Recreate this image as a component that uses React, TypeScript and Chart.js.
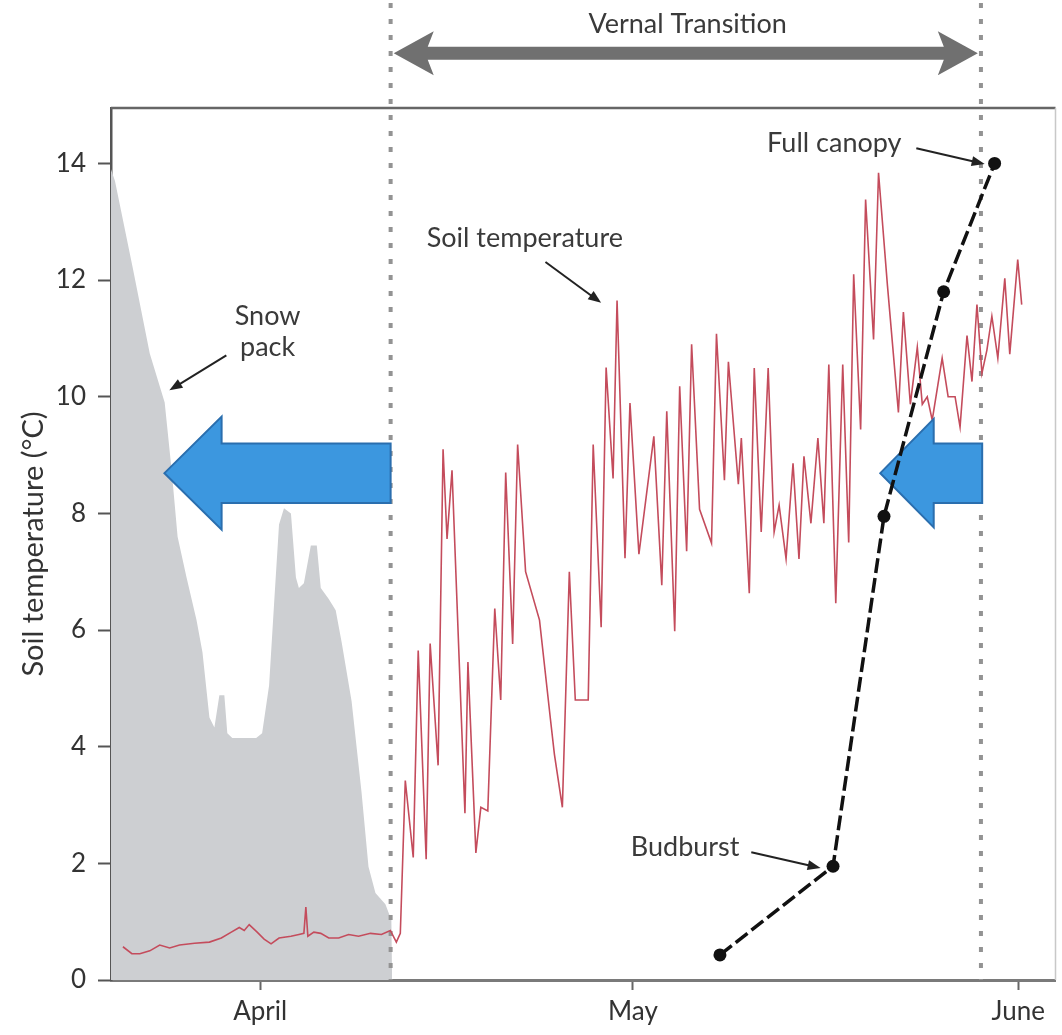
import React, { useEffect, useRef } from 'react';
import { Chart, registerables } from 'chart.js';

Chart.register(...registerables);

const FONT = 'Lato, "Open Sans", "DejaVu Sans", sans-serif';

// x axis: days after 1 April
const monthTickDays = [0, 30, 61];
const monthTickLabels = ['April', 'May', 'June'];
const yTickValues = [0, 2, 4, 6, 8, 10, 12, 14];

// Snow pack outline (drawn on the same scale as the temperature axis)
const snowDays = [
  -12.0, -11.68, -10.24, -8.88, -7.68, -7.12, -6.64, -5.92, -5.12, -4.64, -4.08, -3.68,
  -3.28, -2.88, -2.64, -2.24, -0.32, 0.16, 0.72, 1.12, 1.52, 1.92, 2.48, 2.88, 3.12,
  3.52, 4.08, 4.56, 4.88, 5.52, 6.08, 6.56, 7.36, 8.16, 8.72, 9.28, 10.08, 10.56, 10.62,
];
const snowPack = [
  13.9, 13.7, 12.2, 10.74, 9.9, 8.74, 7.6, 6.9, 6.17, 5.62, 4.5, 4.33,
  4.88, 4.88, 4.23, 4.15, 4.15, 4.23, 5.05, 6.44, 7.81, 8.09, 8.0, 6.9, 6.72,
  6.8, 7.45, 7.45, 6.72, 6.53, 6.34, 5.79, 4.78, 3.22, 1.94, 1.49, 1.3, 1.03, 0,
];

// Soil temperature (°C)
const soilDays = [
  -11.04, -10.32, -9.68, -8.88, -8.08, -7.28, -6.48, -5.28, -4.08, -3.12, -2.32, -1.68,
  -1.28, -0.88, -0.24, 0.32, 0.88, 1.52, 2.48, 3.12, 3.52, 3.68, 3.84, 4.32, 4.88, 5.52,
  6.32, 7.12, 7.92, 8.88, 9.76, 10.48, 10.96, 11.28,
  11.68, 12.32, 12.72, 13.36, 13.68, 14.32, 14.72, 15.04, 15.44, 16.48, 16.72, 17.36,
  17.76, 18.32, 18.88, 19.36, 19.76, 20.32, 20.72, 21.36, 22.48, 23.36, 23.68, 24.32,
  24.88, 25.36, 26.4, 26.8, 27.44, 27.84, 28.4, 28.72, 29.36, 29.76, 30.48, 31.68,
  32.32, 32.72, 33.36, 33.76, 34.32, 34.72, 35.36, 36.32, 36.72, 37.36, 37.68, 38.48,
  38.72, 39.36, 39.76, 40.32, 40.88, 41.36, 41.76, 42.32, 42.88, 43.36, 43.76, 44.32,
  44.88, 45.36, 45.76, 46.32, 46.88, 47.36, 47.76, 48.32, 48.72, 49.36, 49.76, 50.48,
  51.36, 51.76, 52.32, 52.88, 53.28, 53.68, 54.08, 54.88, 55.36, 55.92, 56.32, 56.88,
  57.28, 57.68, 58.08, 58.48, 58.88, 59.36, 59.92, 60.32, 60.96, 61.28,
];
const soilTemp = [
  0.57, 0.45, 0.45, 0.5, 0.6, 0.55, 0.6, 0.63, 0.65, 0.72, 0.82, 0.9,
  0.85, 0.95, 0.82, 0.7, 0.62, 0.72, 0.75, 0.78, 0.8, 1.25, 0.75, 0.82, 0.8, 0.72,
  0.72, 0.78, 0.75, 0.8, 0.78, 0.85, 0.65, 0.8,
  3.42, 2.1, 5.65, 2.07, 5.77, 3.68, 9.1, 7.56, 8.74, 2.86, 5.45, 2.18,
  2.96, 2.9, 6.37, 4.8, 8.7, 5.76, 9.18, 7.0, 6.17, 4.47, 3.87, 2.96,
  7.0, 4.8, 4.8, 9.18, 6.05, 10.5, 8.6, 11.65, 7.23, 9.89, 7.3, 9.32,
  6.77, 9.75, 5.98, 10.18, 7.35, 10.9, 8.07, 7.49, 11.08, 8.57, 10.6, 8.5,
  9.29, 6.63, 10.49, 7.68, 10.49, 7.68, 8.14, 7.22, 8.86, 7.22, 8.98, 7.83,
  9.29, 7.83, 10.55, 6.46, 10.55, 7.5, 12.1, 9.44, 13.38, 10.98, 13.84, 11.9,
  9.73, 11.45, 9.87, 10.85, 9.87, 10.0, 9.6, 10.66, 10.0, 10.0, 9.48, 11.05,
  10.26, 11.58, 10.4, 10.8, 11.38, 10.66, 12.03, 10.73, 12.35, 11.58,
];

// Phenology stages (budburst -> full canopy)
const phenologyDays = [37.0, 46.1, 50.2, 55.0, 59.1];
const phenologyValues = [0.43, 1.95, 7.95, 11.8, 14.0];

// Vernal transition window
const transitionBounds = [10.5, 58.0];

const blueArrows = [
  { tail: 10.5, headBase: -3.1, tip: -7.7, y: 8.69, shaftHalf: 0.51, headHalf: 0.97 },
  { tail: 58.1, headBase: 54.2, tip: 49.9, y: 8.69, shaftHalf: 0.51, headHalf: 0.93 },
];

const noteLabels = [
  { lines: ['Snow', 'pack'], x: 0.6, y: 11.12 },
  { lines: ['Soil temperature'], x: 21.3, y: 12.72 },
  { lines: ['Full canopy'], x: 46.2, y: 14.35 },
  { lines: ['Budburst'], x: 34.2, y: 2.28 },
];
const noteArrows = [
  { from: [-2.72, 10.71], to: [-7.3, 10.11] },
  { from: [22.96, 12.31], to: [27.44, 11.61] },
  { from: [52.8, 14.26], to: [58.3, 13.99] },
  { from: [39.52, 2.19], to: [45.1, 1.92] },
];

const vernal = { label: 'Vernal Transition', labelX: 34.4, labelY: 16.39, arrowY: 15.89, from: 10.75, to: 57.75 };
const dottedTop = 16.75;

function thinArrow(ctx: CanvasRenderingContext2D, x1: number, y1: number, x2: number, y2: number) {
  const a = Math.atan2(y2 - y1, x2 - x1);
  const len = 13;
  const hw = 5;
  const c = Math.cos(a);
  const s = Math.sin(a);
  ctx.beginPath();
  ctx.moveTo(x1, y1);
  ctx.lineTo(x2 - c * len * 0.7, y2 - s * len * 0.7);
  ctx.stroke();
  ctx.beginPath();
  ctx.moveTo(x2, y2);
  ctx.lineTo(x2 - c * len + s * hw, y2 - s * len - c * hw);
  ctx.lineTo(x2 - c * len - s * hw, y2 - s * len + c * hw);
  ctx.closePath();
  ctx.fill();
}

const overlayPlugin = {
  id: 'overlay',
  afterDatasetDraw(chart: any, args: any) {
    const ctx: CanvasRenderingContext2D = chart.ctx;
    const xs = chart.scales.x;
    const ys = chart.scales.y;
    const ds = chart.data.datasets[args.index];
    if (ds.label === 'Snow pack') {
      ctx.save();
      ctx.strokeStyle = '#939393';
      ctx.lineWidth = 4;
      ctx.setLineDash([5, 11]);
      for (const d of transitionBounds) {
        const px = xs.getPixelForValue(d);
        ctx.beginPath();
        ctx.moveTo(px, ys.getPixelForValue(dottedTop));
        ctx.lineTo(px, ys.getPixelForValue(0));
        ctx.stroke();
      }
      ctx.restore();
    }
    if (ds.label === 'Soil temperature') {
      ctx.save();
      ctx.fillStyle = '#3c97df';
      ctx.strokeStyle = '#2a6eae';
      ctx.lineWidth = 2;
      ctx.lineJoin = 'miter';
      for (const a of blueArrows) {
        const X = (v: number) => xs.getPixelForValue(v);
        const Y = (v: number) => ys.getPixelForValue(v);
        ctx.beginPath();
        ctx.moveTo(X(a.tail), Y(a.y + a.shaftHalf));
        ctx.lineTo(X(a.headBase), Y(a.y + a.shaftHalf));
        ctx.lineTo(X(a.headBase), Y(a.y + a.headHalf));
        ctx.lineTo(X(a.tip), Y(a.y));
        ctx.lineTo(X(a.headBase), Y(a.y - a.headHalf));
        ctx.lineTo(X(a.headBase), Y(a.y - a.shaftHalf));
        ctx.lineTo(X(a.tail), Y(a.y - a.shaftHalf));
        ctx.closePath();
        ctx.fill();
        ctx.stroke();
      }
      ctx.restore();
    }
  },
  afterDraw(chart: any) {
    const ctx: CanvasRenderingContext2D = chart.ctx;
    const xs = chart.scales.x;
    const ys = chart.scales.y;
    const area = chart.chartArea;
    ctx.save();
    // frame: top and right
    ctx.strokeStyle = '#666';
    ctx.lineWidth = 2.5;
    ctx.beginPath();
    ctx.moveTo(area.left, area.top);
    ctx.lineTo(area.right, area.top);
    ctx.stroke();
    ctx.strokeStyle = '#c8c8c8';
    ctx.lineWidth = 1.5;
    ctx.beginPath();
    ctx.moveTo(area.right, area.top);
    ctx.lineTo(area.right, area.bottom);
    ctx.stroke();

    // vernal transition double arrow
    const ay = ys.getPixelForValue(vernal.arrowY);
    const ax1 = xs.getPixelForValue(vernal.from);
    const ax2 = xs.getPixelForValue(vernal.to);
    const headLen = 40;
    const headHalf = 22;
    const shaftHalf = 6.5;
    ctx.fillStyle = '#707070';
    ctx.beginPath();
    ctx.moveTo(ax1, ay);
    ctx.lineTo(ax1 + headLen, ay - headHalf);
    ctx.lineTo(ax1 + headLen - 6, ay - shaftHalf);
    ctx.lineTo(ax2 - headLen + 6, ay - shaftHalf);
    ctx.lineTo(ax2 - headLen, ay - headHalf);
    ctx.lineTo(ax2, ay);
    ctx.lineTo(ax2 - headLen, ay + headHalf);
    ctx.lineTo(ax2 - headLen + 6, ay + shaftHalf);
    ctx.lineTo(ax1 + headLen - 6, ay + shaftHalf);
    ctx.lineTo(ax1 + headLen, ay + headHalf);
    ctx.closePath();
    ctx.fill();

    ctx.fillStyle = '#3a3a3a';
    ctx.textAlign = 'center';
    ctx.textBaseline = 'middle';
    ctx.font = `27px ${FONT}`;
    ctx.fillText(vernal.label, xs.getPixelForValue(vernal.labelX), ys.getPixelForValue(vernal.labelY));

    // annotation labels
    for (const n of noteLabels) {
      const cx = xs.getPixelForValue(n.x);
      const cy = ys.getPixelForValue(n.y);
      const lh = 31;
      const start = cy - ((n.lines.length - 1) * lh) / 2;
      n.lines.forEach((t, i) => ctx.fillText(t, cx, start + i * lh));
    }
    ctx.strokeStyle = '#222';
    ctx.fillStyle = '#222';
    ctx.lineWidth = 2;
    for (const a of noteArrows) {
      thinArrow(
        ctx,
        xs.getPixelForValue(a.from[0]),
        ys.getPixelForValue(a.from[1]),
        xs.getPixelForValue(a.to[0]),
        ys.getPixelForValue(a.to[1])
      );
    }
    ctx.restore();
  },
};

export default function App() {
  const ref = useRef<HTMLCanvasElement | null>(null);
  useEffect(() => {
    if (!ref.current) return;
    const chart = new Chart(ref.current, {
      type: 'line',
      data: {
        datasets: [
          {
            label: 'Phenology',
            data: phenologyDays.map((d, i) => ({ x: d, y: phenologyValues[i] })),
            borderColor: '#111',
            borderWidth: 3.5,
            borderDash: [15, 5],
            pointRadius: 6.5,
            pointBackgroundColor: '#111',
            pointBorderWidth: 0,
            fill: false,
            tension: 0,
            order: 1,
          },
          {
            label: 'Soil temperature',
            data: soilDays.map((d, i) => ({ x: d, y: soilTemp[i] })),
            borderColor: '#c44c5c',
            borderWidth: 1.6,
            pointRadius: 0,
            fill: false,
            tension: 0,
            order: 2,
          },
          {
            label: 'Snow pack',
            data: snowDays.map((d, i) => ({ x: d, y: snowPack[i] })),
            borderWidth: 0,
            borderColor: 'rgba(0,0,0,0)',
            backgroundColor: '#cdcfd2',
            pointRadius: 0,
            fill: 'origin',
            tension: 0,
            order: 3,
          },
        ],
      } as any,
      options: {
        animation: false,
        responsive: false,
        maintainAspectRatio: false,
        layout: { padding: { top: 108, right: 2, left: 0, bottom: 0 } },
        plugins: { legend: { display: false }, tooltip: { enabled: false } },
        scales: {
          x: {
            type: 'linear',
            min: -12,
            max: 64,
            afterBuildTicks: (s: any) => {
              s.ticks = monthTickDays.map((v) => ({ value: v }));
            },
            afterFit: (s: any) => {
              s.height = 55;
            },
            ticks: {
              callback: (_v: any, i: number) => monthTickLabels[i],
              font: { family: FONT, size: 26 },
              color: '#333',
              padding: 6,
              maxRotation: 0,
              autoSkip: false,
            },
            grid: { drawOnChartArea: false, drawTicks: true, tickLength: 10, tickWidth: 2, tickColor: '#666' },
            border: { display: true, color: '#7a7a7a', width: 3 },
          },
          y: {
            type: 'linear',
            min: 0,
            max: 14.95,
            afterBuildTicks: (s: any) => {
              s.ticks = yTickValues.map((v) => ({ value: v }));
            },
            afterFit: (s: any) => {
              s.width = 111;
            },
            ticks: { font: { family: FONT, size: 26 }, color: '#333', padding: 12 },
            grid: { drawOnChartArea: false, drawTicks: true, tickLength: 13, tickWidth: 2, tickColor: '#555' },
            border: { display: true, color: '#555', width: 2.5 },
            title: {
              display: true,
              text: 'Soil temperature (°C)',
              font: { family: FONT, size: 29 },
              color: '#333',
              padding: { top: 16, bottom: 0 },
            },
          },
        },
      } as any,
      plugins: [overlayPlugin],
    });
    return () => chart.destroy();
  }, []);

  return (
    <div style={{ position: 'fixed', left: 0, top: 0, width: 1062, height: 1035, background: '#fff' }}>
      <canvas ref={ref} width={1062} height={1035} style={{ width: 1062, height: 1035, display: 'block' }} />
    </div>
  );
}
